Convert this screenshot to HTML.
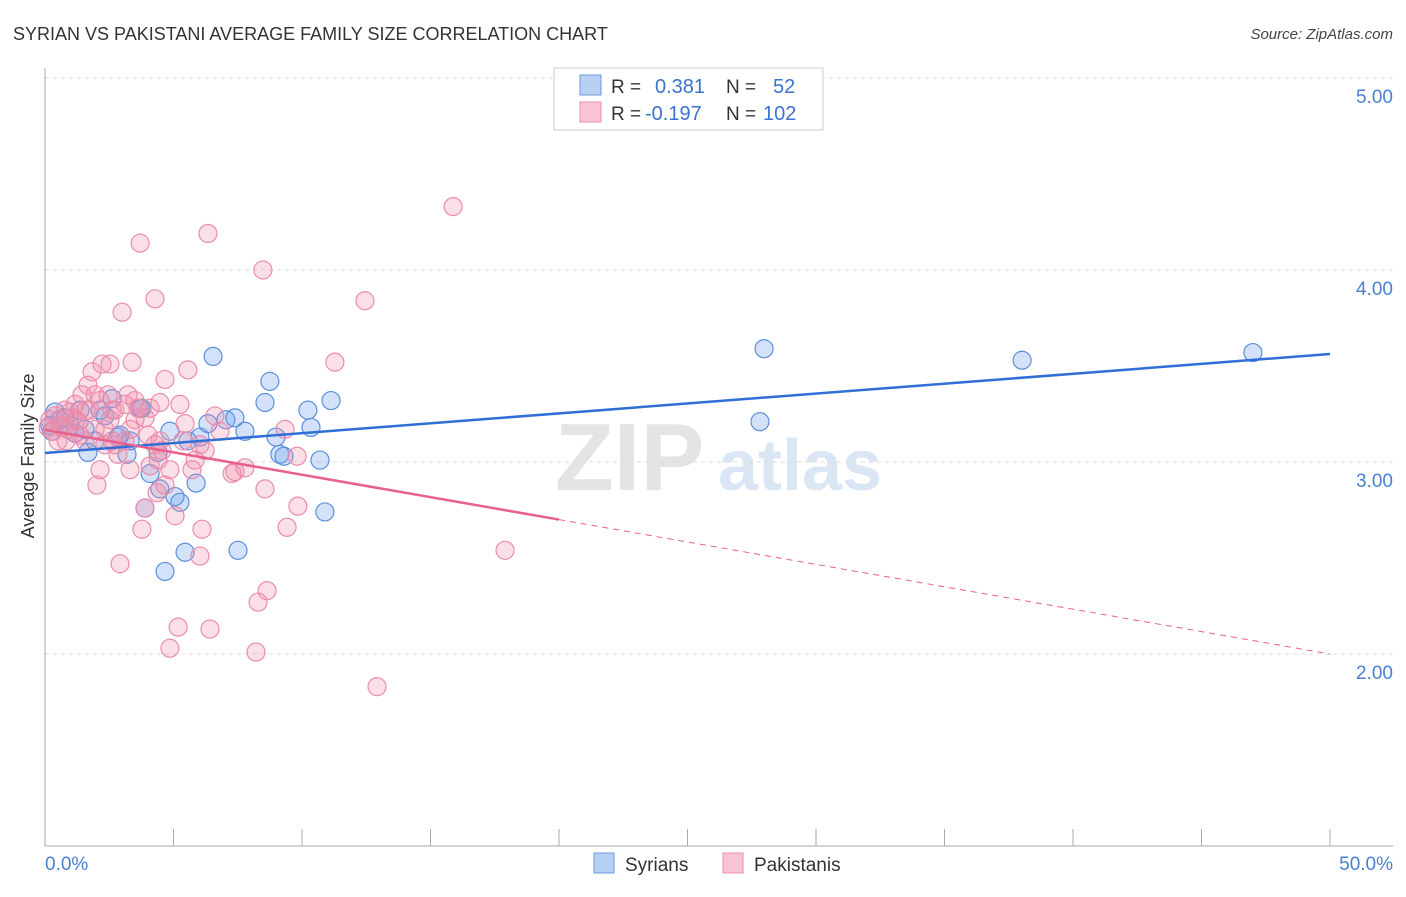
<!DOCTYPE html>
<html><head><meta charset="utf-8"><style>
body{margin:0;background:#fff;font-family:"Liberation Sans",sans-serif;}
svg text{font-family:"Liberation Sans",sans-serif;}
</style></head><body>
<svg id="chart" width="1406" height="892" xmlns="http://www.w3.org/2000/svg">
<text x="13" y="40" font-size="18" fill="#333">SYRIAN VS PAKISTANI AVERAGE FAMILY SIZE CORRELATION CHART</text>
<text x="1393" y="39" font-size="15" fill="#444" font-style="italic" text-anchor="end">Source: ZipAtlas.com</text>
<text x="555" y="490" font-size="96" fill="#e4e4e4" font-family="Liberation Serif" font-weight="bold">ZIP</text>
<text x="718" y="490" font-size="72" fill="#dbe6f5" font-weight="bold">atlas</text>
<g id="grid"></g>
<g id="axes"></g>
<g id="pts"></g>
<g id="lines"></g>
<text transform="translate(34,456) rotate(-90)" font-size="18" fill="#333" text-anchor="middle">Average Family Size</text>
<text x="45" y="870" font-size="19" fill="#4a7fd0">0.0%</text>
<text x="1393" y="870" font-size="19" fill="#4a7fd0" text-anchor="end">50.0%</text>
<g>
<rect x="554" y="68" width="269" height="62" fill="#fff" stroke="#ccc"/>
<rect x="580" y="75" width="21" height="20" fill="#b8d0f2" stroke="#6a9ae0"/>
<rect x="580" y="102" width="21" height="20" fill="#f8c4d4" stroke="#e890ae"/>
<text x="611" y="93" font-size="19" fill="#333">R =</text>
<text x="655" y="93" font-size="20" fill="#3a74d0">0.381</text>
<text x="726" y="93" font-size="19" fill="#333">N =</text>
<text x="773" y="93" font-size="20" fill="#3a74d0">52</text>
<text x="611" y="120" font-size="19" fill="#333">R =</text>
<text x="645" y="120" font-size="20" fill="#3a74d0">-0.197</text>
<text x="726" y="120" font-size="19" fill="#333">N =</text>
<text x="763" y="120" font-size="20" fill="#3a74d0">102</text>
</g>
<g>
<rect x="594" y="853" width="20" height="20" fill="#b8d0f2" stroke="#6a9ae0"/>
<text x="625" y="871" font-size="19" fill="#333">Syrians</text>
<rect x="723" y="853" width="20" height="20" fill="#f8c4d4" stroke="#e890ae"/>
<text x="754" y="871" font-size="19" fill="#333">Pakistanis</text>
</g>
</svg>
<script>
const yTicks=[2,3,4,5];
const yTickLabels=["2.00","3.00","4.00","5.00"];
const syrX=[0.27,0.58,0.97,1.36,1.67,1.95,2.33,2.61,2.84,3.19,3.31,3.70,3.89,4.09,4.40,4.47,4.67,4.86,5.06,5.25,5.45,5.56,5.88,6.03,6.34,6.54,7.04,7.39,7.51,7.78,8.56,8.75,8.99,9.14,9.30,10.23,10.35,10.70,10.89,11.13,27.98,27.82,38.02,47.00,0.19,0.78,1.17,2.14,2.92,3.77,0.39,1.56];
const syrY=[3.16,3.22,3.19,3.27,3.05,3.11,3.24,3.33,3.13,3.04,3.11,3.28,2.76,2.94,3.05,2.86,2.43,3.16,2.82,2.79,2.53,3.11,2.89,3.13,3.20,3.55,3.22,3.23,2.54,3.16,3.31,3.42,3.13,3.04,3.03,3.27,3.18,3.01,2.74,3.32,3.59,3.21,3.53,3.57,3.19,3.23,3.15,3.27,3.14,3.28,3.26,3.17];
const pakX=[0.19,0.39,0.58,0.78,0.89,1.05,1.17,1.28,1.44,1.56,1.67,1.75,1.83,1.95,2.02,2.14,2.22,2.33,2.45,2.53,2.61,2.72,2.84,2.92,3.00,3.11,3.23,3.31,3.39,3.50,3.62,3.70,3.77,3.89,4.01,4.09,4.28,4.36,4.40,4.47,4.55,4.67,4.86,5.06,5.18,5.25,5.37,5.45,5.56,5.72,5.84,6.03,6.11,6.23,6.34,6.42,6.61,6.81,7.28,7.39,7.78,8.21,8.29,8.48,8.56,8.64,9.34,9.42,9.81,9.84,11.28,12.45,12.92,15.88,17.90,4.86,2.53,2.14,0.51,0.66,0.97,1.36,1.95,2.33,2.72,3.11,3.50,3.89,4.28,4.47,4.67,4.09,6.03,2.61,0.12,0.31,0.82,1.21,1.60,3.31];
const pakY=[3.22,3.24,3.19,3.27,3.17,3.23,3.30,3.21,3.35,3.11,3.40,3.27,3.47,3.17,2.88,2.96,3.51,3.09,3.35,3.22,3.11,3.27,3.04,2.47,3.78,3.11,3.35,2.96,3.52,3.22,3.28,4.14,2.65,2.76,3.14,2.98,3.85,2.84,3.01,3.31,3.06,2.88,2.96,2.72,2.14,3.30,3.11,3.20,3.48,2.96,3.01,2.51,2.65,3.06,4.19,2.13,3.24,3.16,2.94,2.95,2.97,2.01,2.27,4.00,2.86,2.33,3.17,2.66,3.03,2.77,3.52,3.84,1.83,4.33,2.54,2.03,3.51,3.32,3.11,3.18,3.26,3.14,3.35,3.17,3.09,3.30,3.32,3.23,3.09,3.11,3.43,3.28,3.09,3.27,3.18,3.16,3.11,3.22,3.27,3.17];
const syrTrend=[3.047,3.5625];
const pakTrend=[3.167,2.0];
const pakSolidEnd=20;
const NS="http://www.w3.org/2000/svg";
const xs=v=>45+v*25.7;
const ys=v=>462-(v-3)*192;
function mk(t,a,p){const e=document.createElementNS(NS,t);for(const k in a)e.setAttribute(k,a[k]);p.appendChild(e);return e;}
const grid=document.getElementById('grid'),axes=document.getElementById('axes'),pts=document.getElementById('pts'),lines=document.getElementById('lines');
yTicks.forEach((t,i)=>{
 const l=mk('line',{x1:45,x2:1393,y1:ys(t),y2:ys(t),stroke:'#ddd','stroke-dasharray':'4,4'},grid);
 
 
 const tx=mk('text',{x:1393,y:ys(t)+25,'font-size':19,fill:'#4a7fd0','text-anchor':'end'},grid);
 tx.textContent=yTickLabels[i];
 
 
});
const ax=mk('line',{x1:45,x2:45,y1:68,y2:846,stroke:'#aaa'},axes);


const bx=mk('line',{x1:45,x2:1393,y1:846,y2:846,stroke:'#aaa'},axes);


for(let i=0;i<=10;i++){
 const tk=mk('line',{x1:xs(i*5),x2:xs(i*5),y1:829,y2:846,stroke:'#aaa'},axes);
 
 
}
syrX.forEach((x,i)=>{
 const c=mk('circle',{cx:xs(x),cy:ys(syrY[i]),r:9,fill:'rgba(110,160,235,0.3)',stroke:'#5b8fdc','stroke-width':1.2},pts);
 
 
});
pakX.forEach((x,i)=>{
 const c=mk('circle',{cx:xs(x),cy:ys(pakY[i]),r:9,fill:'rgba(240,140,170,0.28)',stroke:'#ea8cab','stroke-width':1.2},pts);
 
 
});
const sl=mk('line',{x1:xs(0),y1:ys(syrTrend[0]),x2:xs(50),y2:ys(syrTrend[1]),stroke:'#2f6fd6','stroke-width':2.5},lines);


const pm=pakTrend[0]+(pakTrend[1]-pakTrend[0])*pakSolidEnd/50;
const pl=mk('line',{x1:xs(0),y1:ys(pakTrend[0]),x2:xs(pakSolidEnd),y2:ys(pm),stroke:'#e8608c','stroke-width':2.5},lines);


const pd=mk('line',{x1:xs(pakSolidEnd),y1:ys(pm),x2:xs(50),y2:ys(pakTrend[1]),stroke:'#e8608c','stroke-width':1,'stroke-dasharray':'6,5'},lines);


</script>
</body></html>
